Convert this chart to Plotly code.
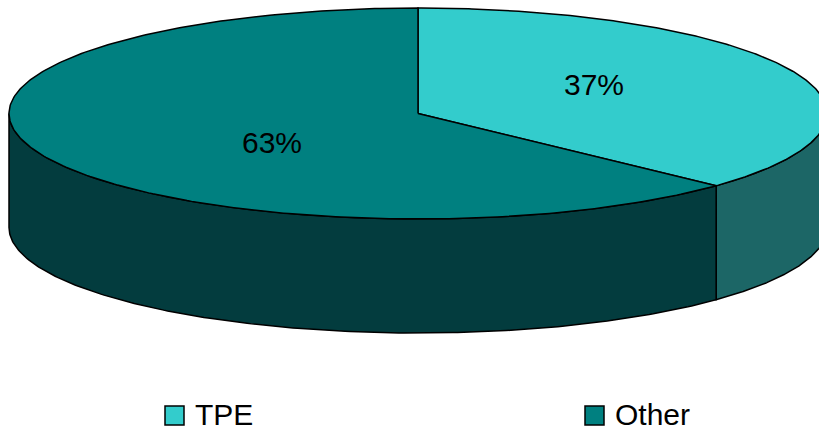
import numpy as np
import plotly.graph_objects as go

# ---- data ----
labels = ["TPE", "Other"]
values = [37, 63]
top_colors = ["#33CCCC", "#008080"]
side_colors = ["#1C6666", "#033C3E"]

# ---- geometry (pixel space) ----
W, H = 819, 435
cx, cy, rx, ry, depth = 418, 113.5, 409, 105.5, 114
line = dict(color="black", width=1.5)

total = sum(values)
fracs = [v / total for v in values]
starts = np.cumsum([0] + fracs[:-1]) * 360.0
ends = np.cumsum(fracs) * 360.0


def pt(theta_deg, dz=0.0):
    t = np.radians(theta_deg)
    return cx + rx * np.sin(t), cy - ry * np.cos(t) + dz


fig = go.Figure()

# side faces (front visible part: 90..270 degrees clockwise from top)
for lab, a, b, sc in zip(labels, starts, ends, side_colors):
    lo, hi = max(a, 90.0), min(b, 270.0)
    if hi <= lo:
        continue
    th = np.linspace(lo, hi, 200)
    xt, yt = pt(th)
    xb, yb = pt(th[::-1], depth)
    xs = np.concatenate([xt, xb, xt[:1]])
    ys = np.concatenate([yt, yb, yt[:1]])
    fig.add_trace(go.Scatter(x=xs, y=ys, mode="lines", fill="toself",
                             fillcolor=sc, line=line, hoverinfo="skip",
                             showlegend=False))

# top faces
for lab, a, b, tc in zip(labels, starts, ends, top_colors):
    th = np.linspace(a, b, 300)
    xa, ya = pt(th)
    xs = np.concatenate([[cx], xa, [cx]])
    ys = np.concatenate([[cy], ya, [cy]])
    fig.add_trace(go.Scatter(x=xs, y=ys, mode="lines", fill="toself",
                             fillcolor=tc, line=line, name=lab,
                             hoverinfo="skip", showlegend=False))

# percentage labels
font = dict(family="Arial, Liberation Sans, sans-serif", size=30, color="black")
for lab, a, b, f in zip(labels, starts, ends, fracs):
    mid = np.radians((a + b) / 2)
    lx = cx + 0.43 * rx * np.sin(mid) + 15
    ly = cy - 0.70 * ry * np.cos(mid)
    fig.add_annotation(x=lx, y=ly, text=f"{round(f * 100)}%", showarrow=False,
                       font=font, xanchor="center", yanchor="middle")

# legend drawn manually
leg_x = [174.5, 594.5]
leg_y = 415.5
for lab, tc, lxp in zip(labels, top_colors, leg_x):
    fig.add_trace(go.Scatter(x=[lxp], y=[leg_y], mode="markers",
                             marker=dict(symbol="square", size=19, color=tc,
                                         line=dict(color="black", width=1.5)),
                             hoverinfo="skip", showlegend=False))
    fig.add_annotation(x=lxp + 18, y=leg_y - 1, text=lab, showarrow=False,
                       font=font, xanchor="left", yanchor="middle")

fig.update_layout(
    width=W, height=H, autosize=False,
    margin=dict(l=0, r=0, t=0, b=0),
    paper_bgcolor="white", plot_bgcolor="white",
    xaxis=dict(range=[0, W], visible=False, fixedrange=True),
    yaxis=dict(range=[H, 0], visible=False, fixedrange=True),
    showlegend=False,
)
fig.write_html("out.html")
